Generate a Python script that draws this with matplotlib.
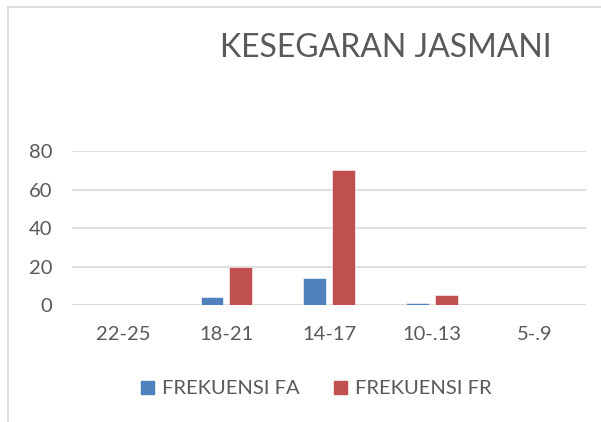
import matplotlib
matplotlib.use("Agg")
import matplotlib.pyplot as plt
from matplotlib.lines import Line2D
from matplotlib.patches import Patch
import numpy as np

categories = ["22-25", "18-21", "14-17", "10-.13", "5-.9"]
fa = [0, 4, 14, 1, 0]
fr = [0, 20, 70, 5, 0]
yticks = [0, 20, 40, 60, 80]

plt.rcParams['font.family'] = ['Lato', 'DejaVu Sans']
gray = '#595959'
grid = '#d9d9d9'
blue = '#4F81BD'
red = '#C0504D'

fig = plt.figure(figsize=(6.01, 4.22), dpi=100)
W, H = 601, 422
ax = fig.add_axes([72 / W, (H - 305) / H, (586 - 72) / W, (305 - 151) / H])

x = np.arange(len(categories))
bw = 0.22
off = 0.14
ax.bar(x - off, fa, bw, color=blue, edgecolor='white', linewidth=0.4, label='FREKUENSI FA', zorder=3)
ax.bar(x + off, fr, bw, color=red, edgecolor='white', linewidth=0.4, label='FREKUENSI FR', zorder=3)

ax.set_xlim(-0.5, len(categories) - 0.5)
ax.set_ylim(0, 80)
ax.set_yticks(yticks)
ax.set_xticks(x)
ax.set_xticklabels(categories)
ax.yaxis.grid(True, color=grid, linewidth=1.2, zorder=0)
for s in ax.spines.values():
    s.set_visible(False)
ax.axhline(0, color=grid, linewidth=1.2, zorder=2)
ax.tick_params(axis='both', length=0, colors=gray, labelsize=14.5)
ax.tick_params(axis='x', pad=15)
ax.tick_params(axis='y', pad=14)

fig.text(386 / W, 1 - 48 / H, "KESEGARAN JASMANI", ha='center', va='center',
         fontsize=23, color=gray)

handles = [Patch(color=blue, label='FREKUENSI FA'), Patch(color=red, label='FREKUENSI FR')]
leg = fig.legend(handles=handles, loc='center', bbox_to_anchor=(316 / W, 1 - 389 / H),
                 ncol=2, frameon=False, fontsize=14.5, handlelength=0.65, handleheight=0.65,
                 handletextpad=0.4, columnspacing=1.7)
for t in leg.get_texts():
    t.set_color(gray)

fig.add_artist(Line2D([8 / W, 8 / W], [0, 1 - 7 / H], color=grid, linewidth=1.2))
fig.add_artist(Line2D([8 / W, 1], [1 - 7 / H, 1 - 7 / H], color=grid, linewidth=1.2))

fig.savefig("out.png", dpi=100)
